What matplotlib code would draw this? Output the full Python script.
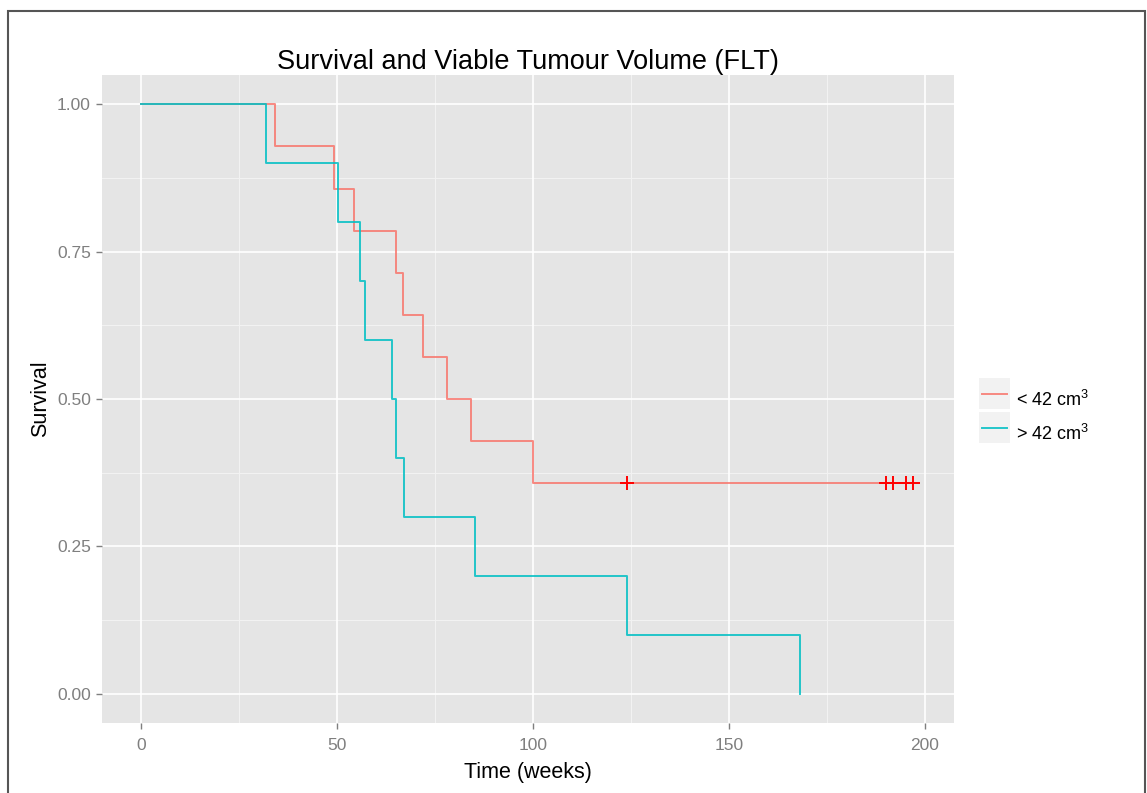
import matplotlib
matplotlib.use("Agg")
import matplotlib.pyplot as plt
from matplotlib.patches import Rectangle
from matplotlib.lines import Line2D

plt.rcParams['font.family'] = ['Liberation Sans', 'DejaVu Sans']
plt.rcParams['mathtext.fontset'] = 'custom'
plt.rcParams['mathtext.rm'] = 'Liberation Sans'

# ----- datos -----
# grupo < 42 cm3
t_small = [0, 34.2, 49.2, 54.3, 65.1, 66.9, 72.0, 78.0, 84.1, 100.1, 197.0]
s_small = [1.0, 0.929, 0.857, 0.786, 0.714, 0.643, 0.571, 0.500, 0.429, 0.357, 0.357]
cens_small = [124.1, 190.0, 191.8, 195.1, 197.0]
# grupo > 42 cm3
t_large = [0, 32.0, 50.3, 56.0, 57.1, 64.1, 65.2, 67.0, 85.2, 124.0, 168.1]
s_large = [1.0, 0.9, 0.8, 0.7, 0.6, 0.5, 0.4, 0.3, 0.2, 0.1, 0.0]

labels = ['< 42 cm$^3$', '> 42 cm$^3$']
colores = ['#F8766D', '#00BFC4']
xticks = [0, 50, 100, 150, 200]
yticks = [0.0, 0.25, 0.5, 0.75, 1.0]
ytick_labels = ['0.00', '0.25', '0.50', '0.75', '1.00']

W, H = 1147, 793
fig = plt.figure(figsize=(W / 100, H / 100), dpi=100)
ax = fig.add_axes([102 / W, 1 - 723 / H, (954 - 102) / W, (723 - 75) / H])
ax.set_facecolor('#E5E5E5')
for s in ax.spines.values():
    s.set_visible(False)

# rejilla
for x in [25, 75, 125, 175]:
    ax.axvline(x, color='#F2F2F2', lw=0.8, zorder=0)
for y in [0.125, 0.375, 0.625, 0.875]:
    ax.axhline(y, color='#F2F2F2', lw=0.8, zorder=0)
for x in xticks:
    ax.axvline(x, color='white', lw=1.2, zorder=0)
for y in yticks:
    ax.axhline(y, color='white', lw=1.2, zorder=0)

# curvas
ax.step(t_small, s_small, where='post', color=colores[0], lw=1.4, alpha=0.85, zorder=2)
ax.plot(cens_small, [s_small[-1]] * len(cens_small), ls='none', marker='+',
        color='red', ms=10, mew=1.4, zorder=3)
ax.step(t_large, s_large, where='post', color=colores[1], lw=1.4, alpha=0.85, zorder=2)

ax.set_xlim(-9.9, 207.4)
ax.set_ylim(-0.05, 1.05)
ax.set_xticks(xticks)
ax.set_yticks(yticks)
ax.set_yticklabels(ytick_labels)
ax.tick_params(colors='#7F7F7F', labelcolor='#7F7F7F', labelsize=12.5,
               length=4, width=1, pad=4)
ax.tick_params(axis='x', pad=7)

ax.set_title('Survival and Viable Tumour Volume (FLT)', fontsize=19.5, pad=3)
ax.set_xlabel('Time (weeks)', fontsize=15.5, labelpad=6)
ax.set_ylabel('Survival', fontsize=15.5, labelpad=4)

# leyenda manual
for i, (lab, c) in enumerate(zip(labels, colores)):
    y0 = 378 + i * 34
    fig.add_artist(Rectangle((979 / W, 1 - (y0 + 31) / H), 31 / W, 31 / H,
                             transform=fig.transFigure, color='#F2F2F2', lw=0))
    fig.add_artist(Line2D([982 / W, 1007 / W], [1 - (y0 + 16) / H] * 2,
                          transform=fig.transFigure, color=c, lw=1.4, alpha=0.85))
    fig.text(1016 / W, 1 - (y0 + 22) / H, lab, fontsize=13, va='center', ha='left')

# marco
fig.add_artist(Rectangle((8 / W, -0.02), (1145 - 8) / W, (H - 11) / H + 0.02,
                         transform=fig.transFigure, fill=False, ec='#555555', lw=1.5))

fig.savefig('out.png', dpi=100)
